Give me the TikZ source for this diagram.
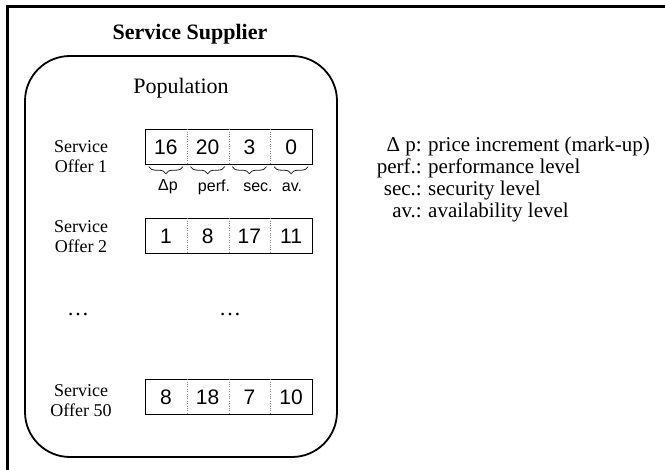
\documentclass[tikz,border=0pt]{standalone}
\usepackage{fontspec}
\setmainfont{Liberation Serif}
\setsansfont{Liberation Sans}
\usetikzlibrary{decorations.pathreplacing}

\tikzset{
	cell/.style={font=\sffamily\fontsize{21}{21}\selectfont, minimum width=41.75pt, minimum height=35pt, inner sep=0pt},
	offerlabel/.style={align=center, font=\fontsize{18}{20}\selectfont},
	fieldbrace/.style={decorate, decoration={brace, mirror, amplitude=7pt}, gray!20!black, line width=0.8pt},
	fieldlabel/.style={font=\sffamily\fontsize{16}{16}\selectfont},
	legendkey/.style={anchor=base east, inner sep=0pt, font=\fontsize{21}{21}\selectfont},
	legendtext/.style={anchor=base west, inner sep=0pt, font=\fontsize{21}{21}\selectfont},
}

\begin{document}
\begin{tikzpicture}[x=1pt, y=-1pt]
	\useasboundingbox (0,0) rectangle (665,470);
	\draw[line width=3pt] (7,470) -- (7,7) -- (665,7);
	\node[font=\bfseries\fontsize{22}{22}\selectfont] (supplier) at (190,34) {Service Supplier};
	\draw[line width=1.8pt, rounded corners=45pt] (25,56) rectangle (337,457);
	\node[font=\fontsize{22}{22}\selectfont] (population) at (181,88) {Population};
	\foreach \r/\y/\ly/\vals in {1/147/157/{16,20,3,0}, 2/236/237/{1,8,17,11}, 50/397/401/{8,18,7,10}} {
		\node[offerlabel] (offer-\r) at (81,\ly) {Service\\Offer \r};
		\foreach \v [count=\k] in \vals
			\node[cell] (c\r-\k) at ({145+41.75*(\k-0.5)},\y) {\v};
		\draw (c\r-1.north west) rectangle (c\r-4.south east);
		\foreach \k in {1,2,3}
			\draw[dotted, gray] (c\r-\k.north east) -- (c\r-\k.south east);
	}
	\foreach \k in {1,2,3,4}
		\draw[fieldbrace] ([xshift=4pt, yshift=-2pt]c1-\k.south west) -- ([xshift=-4pt, yshift=-2pt]c1-\k.south east);
	\foreach \t/\x/\k in {Δp/168/1, perf./214/2, sec./258/3, av./292/4}
		\node[fieldlabel] (field-\k) at (\x,187) {\t};
	\node[font=\fontsize{22}{22}\selectfont] (dots-left) at (78,315) {\dots};
	\node[font=\fontsize{22}{22}\selectfont] (dots-mid) at (230,315) {\dots};
	\foreach \key/\txt [count=\i] in {Δ p:/price increment (mark-up), perf.:/performance level, sec.:/security level, av.:/availability level} {
		\node[legendkey] (key-\i) at (422,{130.3+21.7*\i}) {\key};
		\node[legendtext] (desc-\i) at (428,{130.3+21.7*\i}) {\txt};
	}
\end{tikzpicture}
\end{document}
